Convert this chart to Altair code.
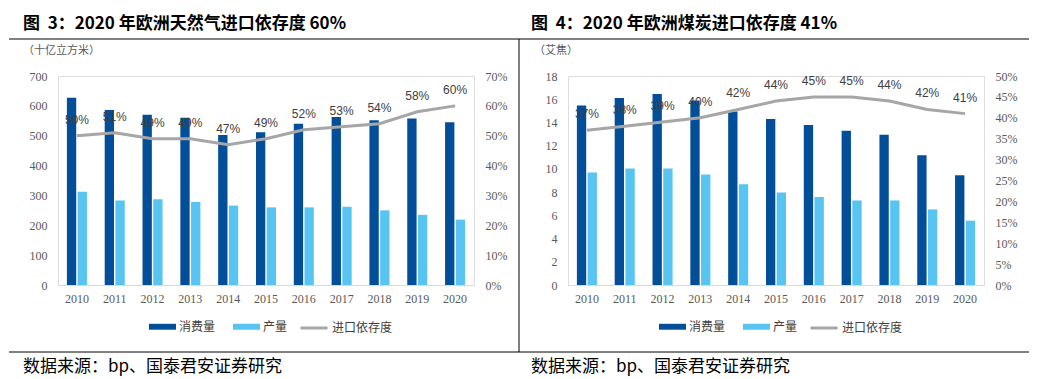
import altair as alt
import pandas as pd

years = [str(y) for y in range(2010, 2021)]
gas_consumption = [627, 586, 570, 560, 502, 512, 540, 563, 552, 558, 545]
gas_production = [312, 283, 287, 278, 266, 260, 260, 262, 250, 235, 219]
gas_dependency = [0.50, 0.51, 0.49, 0.49, 0.47, 0.49, 0.52, 0.53, 0.54, 0.58, 0.60]
coal_consumption = [15.45, 16.1, 16.45, 15.9, 14.95, 14.3, 13.77, 13.28, 12.94, 11.17, 9.45]
coal_production = [9.68, 10.03, 10.03, 9.51, 8.68, 7.97, 7.57, 7.28, 7.28, 6.51, 5.54]
coal_dependency = [0.37, 0.38, 0.39, 0.40, 0.42, 0.44, 0.45, 0.45, 0.44, 0.42, 0.41]

series_names = ["消费量", "产量"]
line_name = "进口依存度"
DARK = "#024E98"
LIGHT = "#57C4F2"
GRAY = "#A6A6A6"
CJK = "Noto Sans CJK SC"
W, H = 416, 209


def panel(cons, prod, dep, title, unit, ymax, ystep, pmax, pstep,
          tx, ux, line_x0, source_x, right_border):
    bars_df = pd.DataFrame({
        "year": years * 2,
        "series": [series_names[0]] * len(years) + [series_names[1]] * len(years),
        "value": cons + prod,
    })
    line_df = pd.DataFrame({"year": years, "dep": dep, "name": [line_name] * len(years)})
    one = pd.DataFrame({"a": [0]})

    xenc = alt.X("year:N", sort=years,
                 scale=alt.Scale(paddingInner=0.47, paddingOuter=0.235),
                 axis=alt.Axis(title=None, labelAngle=0, ticks=False, domain=True,
                               domainColor="#D9D9D9", domainWidth=1,
                               labelFont="Liberation Serif", labelFontSize=12,
                               labelColor="#595959", labelPadding=8))

    bars = alt.Chart(bars_df).mark_bar().encode(
        x=xenc,
        xOffset=alt.XOffset("series:N", sort=series_names,
                            scale=alt.Scale(domain=series_names, paddingInner=0.13, paddingOuter=0)),
        y=alt.Y("value:Q",
                scale=alt.Scale(domain=[0, ymax], nice=False, zero=True),
                axis=alt.Axis(title=None, values=[i * ystep for i in range(int(round(ymax / ystep)) + 1)],
                              ticks=False, domain=False, grid=False,
                              labelFont="Liberation Serif", labelFontSize=12,
                              labelColor="#595959", labelPadding=11)),
        color=alt.Color("series:N",
                        scale=alt.Scale(domain=series_names, range=[DARK, LIGHT]),
                        legend=alt.Legend(title=None, orient="none", direction="horizontal",
                                          legendX=91, legendY=237,
                                          symbolType="M-1,-0.22H1V0.22H-1Z", symbolSize=729,
                                          symbolStrokeWidth=0,
                                          labelFont=CJK, labelFontSize=12, labelColor="#404040",
                                          labelOffset=3, columnPadding=17)),
    )

    yline = alt.Y("dep:Q",
                  scale=alt.Scale(domain=[0, pmax], nice=False, zero=True),
                  axis=alt.Axis(title=None, orient="right", format=".0%",
                                values=[round(i * pstep, 4) for i in range(int(round(pmax / pstep)) + 1)],
                                ticks=False, domain=False, grid=False,
                                labelFont="Liberation Serif", labelFontSize=12,
                                labelColor="#595959", labelPadding=11))

    line = alt.Chart(line_df).mark_line(strokeWidth=3).encode(
        x=alt.X("year:N", sort=years),
        y=yline,
        stroke=alt.Stroke("name:N", scale=alt.Scale(domain=[line_name], range=[GRAY]),
                          legend=alt.Legend(title=None, orient="none", direction="horizontal",
                                            legendX=line_x0, legendY=237,
                                            symbolType="stroke", symbolSize=729,
                                            symbolStrokeWidth=3,
                                            labelFont=CJK, labelFontSize=12, labelColor="#404040",
                                            labelOffset=3)),
    )
    labels = alt.Chart(line_df).mark_text(dy=-16, font="Liberation Sans", fontSize=12,
                                          color="#404040").encode(
        x=alt.X("year:N", sort=years),
        y=yline,
        text=alt.Text("dep:Q", format=".0%"),
    )

    deco = []
    # white anchor for page top-left
    deco.append(alt.Chart(one).mark_rule(color="white", strokeWidth=1).encode(
        x=alt.value(-49), x2=alt.value(-45), y=alt.value(-67)))
    # frame lines
    deco.append(alt.Chart(one).mark_rule(color="#000000", strokeWidth=1).encode(
        x=alt.value(-49), x2=alt.value(461), y=alt.value(-37)))
    deco.append(alt.Chart(one).mark_rule(color="#000000", strokeWidth=1).encode(
        x=alt.value(-49), x2=alt.value(461), y=alt.value(276)))
    if right_border:
        deco.append(alt.Chart(one).mark_rule(color="#000000", strokeWidth=1).encode(
            x=alt.value(461), y=alt.value(-37), y2=alt.value(276)))
    deco.append(alt.Chart(one).mark_text(align="left", baseline="middle", font=CJK,
                                         fontSize=17, fontWeight="bold", color="#000000").encode(
        x=alt.value(tx), y=alt.value(-52), text=alt.value(title)))
    deco.append(alt.Chart(one).mark_text(align="left", baseline="middle", font=CJK,
                                         fontSize=11, color="#595959").encode(
        x=alt.value(ux), y=alt.value(-25), text=alt.value(unit)))
    deco.append(alt.Chart(one).mark_text(align="left", baseline="middle", font=CJK,
                                         fontSize=17, color="#000000").encode(
        x=alt.value(source_x), y=alt.value(291), text=alt.value("数据来源：bp、国泰君安证券研究")))

    return alt.layer(bars, alt.layer(line, labels), *deco).resolve_scale(y="independent").properties(
        width=W, height=H)


left = panel(gas_consumption, gas_production, gas_dependency,
             "图\u00a0\u00a03：2020\u00a0年欧洲天然气进口依存度\u00a060%", "（十亿立方米）",
             700, 100, 0.7, 0.1, tx=-35, ux=-35, line_x0=241, source_x=-35, right_border=True)
right = panel(coal_consumption, coal_production, coal_dependency,
              "图\u00a0\u00a04：2020\u00a0年欧洲煤炭进口依存度\u00a041%", "（艾焦）",
              18, 2, 0.5, 0.05, tx=-37, ux=-34, line_x0=241, source_x=-37, right_border=False)

chart = alt.hconcat(left, right, spacing=94, bounds="flush").resolve_scale(
    color="independent", stroke="independent", x="independent", y="independent"
).resolve_legend(color="independent", stroke="independent").configure_view(
    stroke=None
).configure(padding=0, background="white")

chart.save("out.html", embed_options={"renderer": "svg", "actions": False})
